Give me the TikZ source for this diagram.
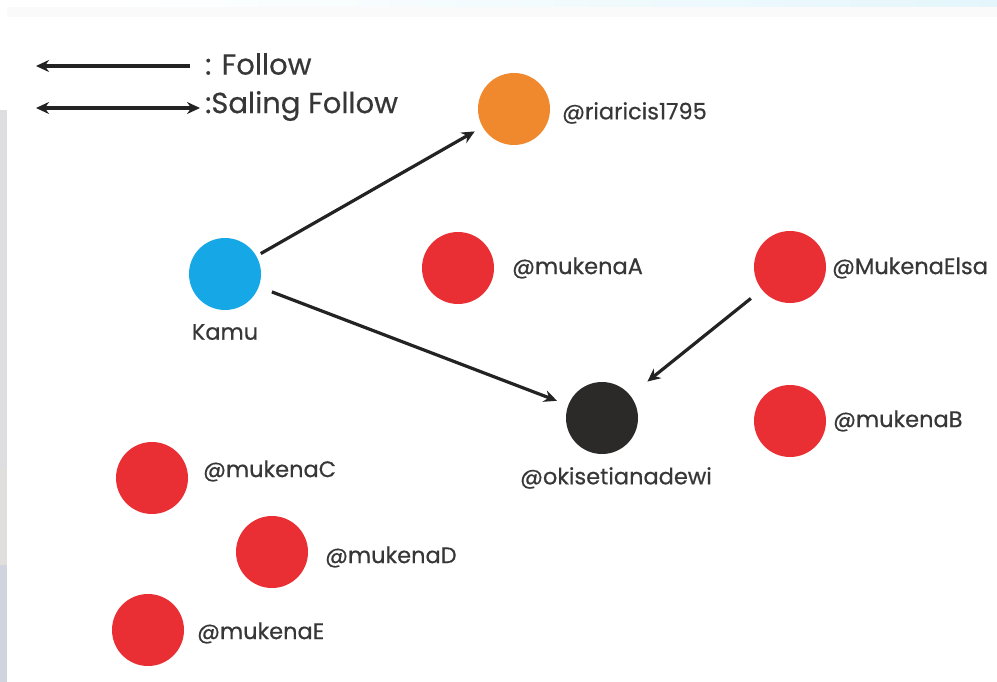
\documentclass[tikz,border=0pt]{standalone}
\usepackage{fontspec}
\setmainfont{Poppins}[FakeBold=0.5]
\usetikzlibrary{arrows.meta}
\definecolor{kamublue}{RGB}{22,168,230}
\definecolor{riaorange}{RGB}{240,136,46}
\definecolor{mukred}{RGB}{233,47,52}
\definecolor{okidark}{RGB}{44,41,41}
\definecolor{labelgray}{RGB}{55,55,55}
\definecolor{linegray}{RGB}{35,35,35}
\definecolor{topcyan}{RGB}{228,246,252}
\definecolor{topgray}{RGB}{250,250,250}
\definecolor{sidegrayA}{RGB}{222,222,224}
\definecolor{sidegrayB}{RGB}{226,222,220}
\definecolor{sidegrayC}{RGB}{208,212,222}
\tikzset{
  x=1pt, y=-1pt,
  user/.style={circle, minimum size=72pt, inner sep=0pt},
  handle/.style={anchor=west, text=labelgray, font=\fontsize{22.5}{22.5}\selectfont, inner sep=0pt},
  legendtext/.style={anchor=west, text=labelgray, font=\fontsize{29}{29}\selectfont, inner sep=0pt},
  follow/.style={draw=linegray, line width=3.2pt, -{Stealth[length=13pt,width=12pt]}},
  legendline/.style={draw=linegray, line width=3.2pt}
}
\begin{document}
\begin{tikzpicture}
\useasboundingbox (0,0) rectangle (997,682);
\fill[white] (0,0) rectangle (997,682);
% strips along the top and left border
\shade[left color=white, right color=topcyan] (110,0) rectangle (997,7);
\fill[topgray] (7,7) rectangle (997,17);
\fill[sidegrayA] (0,110) rectangle (7,470);
\fill[sidegrayB] (0,470) rectangle (7,565);
\fill[sidegrayC] (0,565) rectangle (7,682);

% legend
\coordinate (fa) at (36,66);
\coordinate (fb) at (190,66);
\coordinate (sa) at (36,108);
\coordinate (sb) at (200,108);
\draw[legendline, {Stealth[length=13pt,width=12pt]}-] (fa) -- (fb);
\draw[legendline, {Stealth[length=13pt,width=12pt]}-{Stealth[length=13pt,width=12pt]}] (sa) -- (sb);
\node[legendtext] (lf) at (205,64) {: Follow};
\node[legendtext] (ls) at (205,106) {:Saling Follow};

% users
\node[user, fill=riaorange] (ria) at (514,109) {};
\node[user, fill=kamublue] (kamu) at (225,274) {};
\node[user, fill=mukred] (muka) at (458,268) {};
\node[user, fill=mukred] (mukelsa) at (790,267) {};
\node[user, fill=okidark] (oki) at (602,418) {};
\node[user, fill=mukred] (mukb) at (790,421) {};
\node[user, fill=mukred] (mukc) at (152,478) {};
\node[user, fill=mukred] (mukd) at (272,552) {};
\node[user, fill=mukred] (muke) at (148,630) {};

% handles
\node[handle] (lria) at (562,113) {@riaricis1795};
\node[handle, anchor=center] (lkamu) at (225,332) {Kamu};
\node[handle] (lmuka) at (512,268) {@mukenaA};
\node[handle] (lmukelsa) at (832,268) {@MukenaElsa};
\node[handle, anchor=center] (loki) at (616,478) {@okisetianadewi};
\node[handle] (lmukb) at (833,421) {@mukenaB};
\node[handle] (lmukc) at (203,471) {@mukenaC};
\node[handle] (lmukd) at (325,557) {@mukenaD};
\node[handle] (lmuke) at (197,633) {@mukenaE};

% follow relations
\draw[follow, shorten <=5pt, shorten >=9pt] (kamu) -- (ria);
\draw[follow, shorten <=14pt, shorten >=12pt] (kamu) -- (oki);
\draw[follow, shorten <=14pt, shorten >=22pt] (mukelsa) -- (oki);
\end{tikzpicture}
\end{document}
